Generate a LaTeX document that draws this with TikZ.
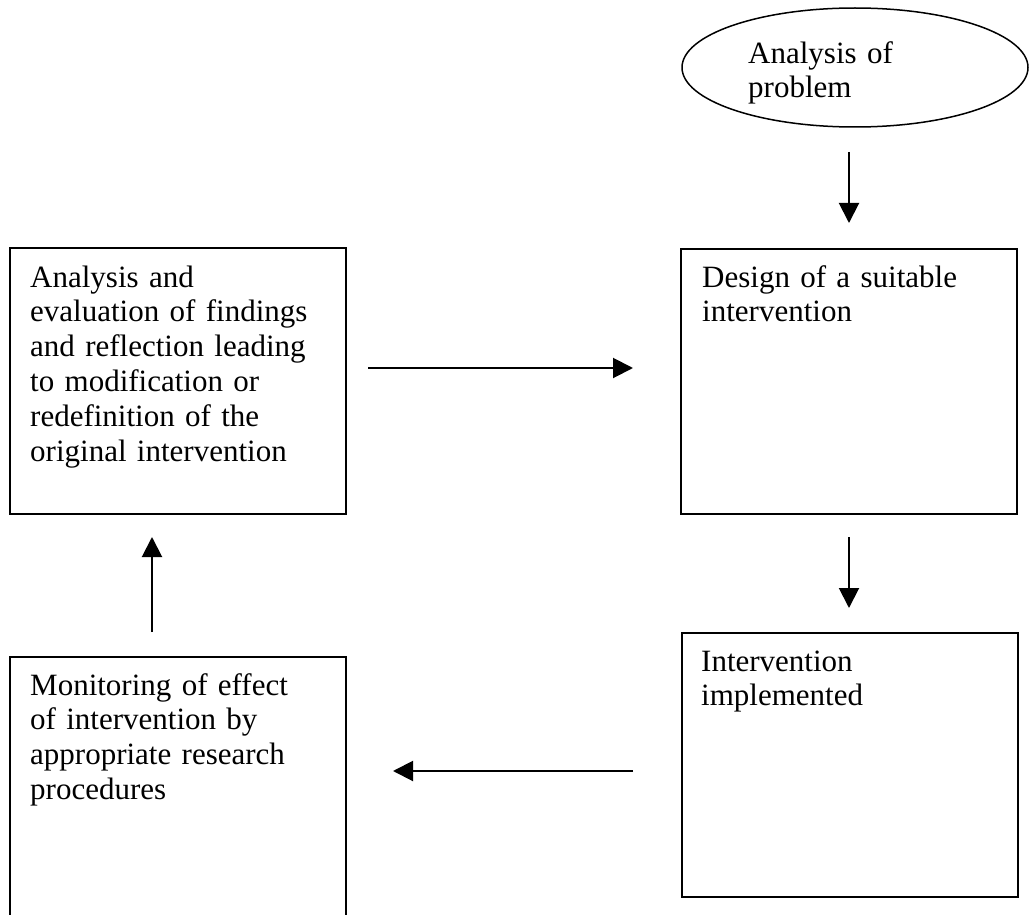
\documentclass[tikz,border=0pt]{standalone}
\usepackage{fontspec}
\setmainfont{Liberation Serif}
\usetikzlibrary{arrows.meta,shapes.geometric}
\begin{document}
\begin{tikzpicture}[x=1pt,y=-1pt,
  box/.style={draw, line width=2pt, rectangle, inner sep=0pt, anchor=north west},
  txt/.style={anchor=north west, inner sep=0pt, align=left, text width=320pt,
              font=\fontsize{31}{34.8}\selectfont},
  arr/.style={line width=2pt, -{Triangle[length=20pt,width=20pt]}}]
\useasboundingbox (0,0) rectangle (1029,915);
\fill[white] (0,0) rectangle (1029,915);
\begin{scope}
\clip (0,0) rectangle (1029,915);
% shapes
\node[draw, ellipse, line width=1.5pt, minimum width=346pt, minimum height=119pt, inner sep=0pt] (prob) at (855,67.5) {};
\node[box, minimum width=336pt, minimum height=265pt] (design) at (680,248) {};
\node[box, minimum width=336pt, minimum height=264pt] (impl) at (681,632) {};
\node[box, minimum width=336pt, minimum height=266pt] (eval) at (9,247) {};
\node[box, minimum width=336pt, minimum height=290pt] (mon) at (9,656) {};
\end{scope}
% texts
\node[txt] (probtxt) at (748,38.6) {\strut Analysis of\\problem};
\node[txt] (designtxt) at (702,262.6) {\strut Design of a suitable\\intervention};
\node[txt] (impltxt) at (701,646.6) {\strut Intervention\\implemented};
\node[txt] (evaltxt) at (30,262.6) {\strut Analysis and\\evaluation of findings\\and reflection leading\\to modification or\\redefinition of the\\original intervention};
\node[txt] (montxt) at (30,670.6) {\strut Monitoring of effect\\of intervention by\\appropriate research\\procedures};
% arrow ends
\coordinate (a1s) at (849,152); \coordinate (a1e) at (849,223);
\coordinate (a2s) at (849,537); \coordinate (a2e) at (849,608);
\coordinate (a3s) at (368,368); \coordinate (a3e) at (633,368);
\coordinate (a4s) at (633,771); \coordinate (a4e) at (393,771);
\coordinate (a5s) at (152,632); \coordinate (a5e) at (152,537);
\draw[arr] (a1s) -- (a1e);
\draw[arr] (a2s) -- (a2e);
\draw[arr] (a3s) -- (a3e);
\draw[arr] (a4s) -- (a4e);
\draw[arr] (a5s) -- (a5e);
\end{tikzpicture}
\end{document}
